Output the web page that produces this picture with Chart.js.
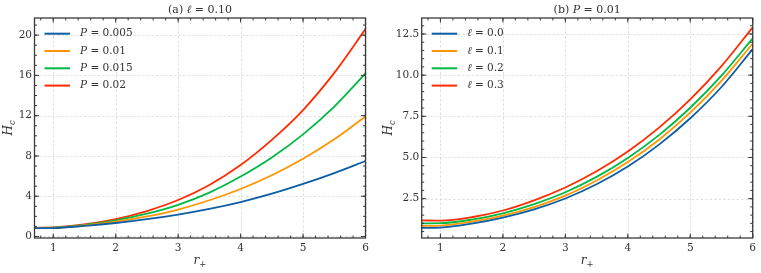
<!DOCTYPE html>
<html>
<head>
<meta charset="utf-8">
<script src="https://cdn.jsdelivr.net/npm/chart.js@4.4.1/dist/chart.umd.min.js"></script>
<style>
  html, body { margin: 0; padding: 0; background: #fff; }
  #wrap { position: relative; width: 761px; height: 273px; }
  canvas { position: absolute; top: 0; }
</style>
</head>
<body>
<div id="wrap">
  <canvas id="chartA" width="380" height="273" style="left:0"></canvas>
  <canvas id="chartB" width="381" height="273" style="left:380px"></canvas>
</div>
<script>
// horizon radius samples
var rPlus = [0.7, 1, 1.5, 2, 2.5, 3, 3.5, 4, 4.5, 5, 5.5, 6];

// (a) l = 0.10, different pressures
var pLabels = ['0.005', '0.01', '0.015', '0.02'];
var hcP005 = [0.83, 0.84, 1.05, 1.34, 1.72, 2.18, 2.74, 3.42, 4.25, 5.22, 6.30, 7.50];
var hcP010 = [0.84, 0.86, 1.10, 1.47, 1.99, 2.68, 3.60, 4.72, 6.08, 7.72, 9.65, 11.92];
var hcP015 = [0.85, 0.88, 1.15, 1.60, 2.26, 3.15, 4.36, 5.95, 7.85, 10.14, 12.90, 16.20];
var hcP020 = [0.86, 0.90, 1.20, 1.73, 2.53, 3.62, 5.12, 7.10, 9.60, 12.56, 16.25, 20.60];

// (b) P = 0.01, different l
var lLabels = ['0.0', '0.1', '0.2', '0.3'];
var hcL00 = [0.72, 0.74, 0.98, 1.35, 1.85, 2.51, 3.37, 4.45, 5.78, 7.38, 9.28, 11.58];
var hcL01 = [0.84, 0.86, 1.10, 1.47, 1.99, 2.68, 3.60, 4.72, 6.08, 7.72, 9.65, 11.92];
var hcL02 = [1.00, 1.01, 1.23, 1.61, 2.17, 2.89, 3.82, 4.97, 6.36, 8.02, 9.97, 12.23];
var hcL03 = [1.18, 1.16, 1.37, 1.78, 2.40, 3.18, 4.16, 5.36, 6.81, 8.53, 10.55, 12.90];

// tick labels
var xTicks = [1, 2, 3, 4, 5, 6];
var yTicksA = [0, 4, 8, 12, 16, 20];
var yTicksB = [2.5, 5.0, 7.5, 10.0, 12.5];

var colors = ['#0C5DA5', '#FF9500', '#00B945', '#FF2C00'];
var serif = "'DejaVu Serif', 'Liberation Serif', serif";
var textColor = '#333';

Chart.defaults.font.family = serif;
Chart.defaults.color = textColor;

function toPoints(vals) {
    return rPlus.map(function (r, i) { return { x: r, y: vals[i] }; });
}

function makeSets(name, labels, series) {
    return series.map(function (vals, i) {
        return {
            label: name + ' = ' + labels[i],
            data: toPoints(vals),
            borderColor: colors[i],
            borderWidth: 1.8,
            pointRadius: 0,
            fill: false,
            cubicInterpolationMode: 'monotone'
        };
    });
}

// rich text: segments {t, it, sub}
function segFont(s, size) {
    return (s.it ? 'italic ' : '') + (s.sub ? size * 0.7 : size) + 'px ' + serif;
}
function drawRich(ctx, segs, x, y, size, align) {
    var total = 0;
    segs.forEach(function (s) { ctx.font = segFont(s, size); total += ctx.measureText(s.t).width; });
    var cx = align === 'left' ? x : x - total / 2;
    ctx.textBaseline = 'middle';
    ctx.textAlign = 'left';
    segs.forEach(function (s) {
        ctx.font = segFont(s, size);
        ctx.fillText(s.t, cx, y + (s.sub ? size * 0.28 : 0));
        cx += ctx.measureText(s.t).width;
    });
}

var decor = {
    id: 'decor',
    beforeDatasetsDraw: function (chart, args, opts) {
        var ctx = chart.ctx, a = chart.chartArea;
        var xs = chart.scales.x, ys = chart.scales.y;
        ctx.save();
        // dashed grid
        ctx.strokeStyle = '#d2d2d2';
        ctx.lineWidth = 0.7;
        ctx.setLineDash([2.5, 2]);
        xs.ticks.forEach(function (t) {
            var px = Math.round(xs.getPixelForValue(t.value)) + 0.5;
            ctx.beginPath(); ctx.moveTo(px, a.top); ctx.lineTo(px, a.bottom); ctx.stroke();
        });
        ys.ticks.forEach(function (t) {
            var py = Math.round(ys.getPixelForValue(t.value)) + 0.5;
            ctx.beginPath(); ctx.moveTo(a.left, py); ctx.lineTo(a.right, py); ctx.stroke();
        });
        ctx.restore();
    },
    afterDatasetsDraw: function (chart, args, opts) {
        var ctx = chart.ctx, a = chart.chartArea;
        var xs = chart.scales.x, ys = chart.scales.y;
        ctx.save();
        ctx.strokeStyle = '#3a3a3a';
        ctx.lineWidth = 1;
        function tickX(v, len) {
            var px = xs.getPixelForValue(v);
            ctx.beginPath();
            ctx.moveTo(px, a.bottom); ctx.lineTo(px, a.bottom - len);
            ctx.moveTo(px, a.top); ctx.lineTo(px, a.top + len);
            ctx.stroke();
        }
        function tickY(v, len) {
            var py = ys.getPixelForValue(v);
            ctx.beginPath();
            ctx.moveTo(a.left, py); ctx.lineTo(a.left + len, py);
            ctx.moveTo(a.right, py); ctx.lineTo(a.right - len, py);
            ctx.stroke();
        }
        var v;
        for (v = Math.ceil(xs.min / opts.xMinor) * opts.xMinor; v <= xs.max + 1e-9; v += opts.xMinor) tickX(v, 2.5);
        for (v = Math.ceil(ys.min / opts.yMinor) * opts.yMinor; v <= ys.max + 1e-9; v += opts.yMinor) tickY(v, 2.5);
        xs.ticks.forEach(function (t) { tickX(t.value, 4.5); });
        ys.ticks.forEach(function (t) { tickY(t.value, 4.5); });
        // frame
        ctx.lineWidth = 1.3;
        ctx.strokeRect(a.left, a.top, a.right - a.left, a.bottom - a.top);

        // title and axis labels
        ctx.fillStyle = textColor;
        var cxm = (a.left + a.right) / 2, cym = (a.top + a.bottom) / 2;
        drawRich(ctx, opts.title, cxm, 10.5, 11);
        drawRich(ctx, [{ t: 'r', it: true }, { t: '+', sub: true }], cxm, 261, 12);
        ctx.save();
        ctx.translate(opts.yLabelX, cym);
        ctx.rotate(-Math.PI / 2);
        drawRich(ctx, [{ t: 'H', it: true }, { t: 'c', it: true, sub: true }], 0, 0, 12);
        ctx.restore();

        // legend
        chart.data.datasets.forEach(function (ds, i) {
            var y = a.top + 15.7 + i * 17.3;
            var x0 = a.left + 10;
            ctx.strokeStyle = ds.borderColor;
            ctx.lineWidth = 2;
            ctx.beginPath(); ctx.moveTo(x0, y); ctx.lineTo(x0 + 25.5, y); ctx.stroke();
            var parts = ds.label.split(' = ');
            ctx.fillStyle = textColor;
            drawRich(ctx, [{ t: parts[0], it: true }, { t: ' = ' + parts[1] }], x0 + 35.5, y, 10.5, 'left');
        });
        ctx.restore();
    }
};

function makeChart(id, sets, yTicks, yMin, yMax, leftW, padRight, decorOpts, fmt) {
    var el = document.getElementById(id);
    if (!el.getContext) {
        throw new Error('Canvas element expected');
    }
    return new Chart(el.getContext('2d'), {
        type: 'line',
        data: { datasets: sets },
        plugins: [decor],
        options: {
            responsive: false,
            animation: false,
            devicePixelRatio: 1,
            layout: { padding: { top: 18, right: padRight, left: 0, bottom: 0 } },
            plugins: {
                legend: { display: false },
                tooltip: { enabled: false },
                decor: decorOpts
            },
            scales: {
                x: {
                    type: 'linear',
                    min: 0.7,
                    max: 6,
                    grid: { display: false, drawTicks: false },
                    border: { display: false },
                    afterBuildTicks: function (s) { s.ticks = xTicks.map(function (v) { return { value: v }; }); },
                    afterFit: function (s) { s.height = 35; },
                    ticks: { padding: 4, font: { size: 10.5 }, color: textColor, maxRotation: 0 }
                },
                y: {
                    type: 'linear',
                    min: yMin,
                    max: yMax,
                    grid: { display: false, drawTicks: false },
                    border: { display: false },
                    afterBuildTicks: function (s) { s.ticks = yTicks.map(function (v) { return { value: v }; }); },
                    afterFit: function (s) { s.width = leftW; },
                    ticks: { padding: 2.5, font: { size: 10.5 }, color: textColor, callback: fmt }
                }
            }
        }
    });
}

makeChart('chartA',
    makeSets('P', pLabels, [hcP005, hcP010, hcP015, hcP020]),
    yTicksA, -0.15, 21.7, 34.5, 14.5,
    { title: [{ t: '(a) ' }, { t: 'ℓ', it: true }, { t: ' = 0.10' }], xMinor: 0.2, yMinor: 1, yLabelX: 9 },
    function (v) { return String(v); });

makeChart('chartB',
    makeSets('ℓ', lLabels, [hcL00, hcL01, hcL02, hcL03]),
    yTicksB, 0.11, 13.47, 41.7, 8.3,
    { title: [{ t: '(b) ' }, { t: 'P', it: true }, { t: ' = 0.01' }], xMinor: 0.2, yMinor: 0.5, yLabelX: 9 },
    function (v) { return Number(v).toFixed(1); });
</script>
</body>
</html>
